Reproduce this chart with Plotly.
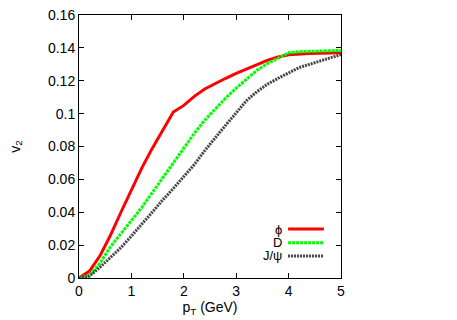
import plotly.graph_objects as go

pt = [0, 0.2, 0.4, 0.6, 0.8, 1.0, 1.2, 1.4, 1.6, 1.8, 2.0, 2.2, 2.4, 2.6, 2.8, 3.0,
      3.2, 3.4, 3.6, 3.8, 4.0, 4.2, 4.4, 4.6, 4.8, 5.0]
v2_phi = [0, 0.0042, 0.0135, 0.026, 0.040, 0.054, 0.067, 0.079, 0.090, 0.101, 0.105, 0.1105,
          0.115, 0.1185, 0.1215, 0.1245, 0.127, 0.1298, 0.1325, 0.1345, 0.1358, 0.1363,
          0.1366, 0.1368, 0.137, 0.137]
v2_D = [0, 0.0015, 0.009, 0.019, 0.027, 0.035, 0.043, 0.052, 0.061, 0.070, 0.0795, 0.088,
        0.096, 0.103, 0.1095, 0.1155, 0.121, 0.1265, 0.1305, 0.134, 0.137, 0.1377, 0.138,
        0.1382, 0.1383, 0.1384]
v2_Jpsi = [0, 0.0012, 0.0065, 0.0128, 0.0185, 0.0255, 0.033, 0.0405, 0.0475, 0.0545, 0.0615,
           0.069, 0.0775, 0.0855, 0.093, 0.1005, 0.108, 0.1135, 0.118, 0.1215, 0.125,
           0.128, 0.130, 0.1318, 0.134, 0.1359]
labels = ["ϕ", "D", "J/ψ"]
colors = ["#ff0000", "#00ff00", "#444444"]
dashes = ["solid", "3px,1px", "2px,1px"]
x_ticks = [0, 1, 2, 3, 4, 5]
y_ticks = [0, 0.02, 0.04, 0.06, 0.08, 0.1, 0.12, 0.14, 0.16]
y_ticktext = ["0", "0.02", "0.04", "0.06", "0.08", "0.1", "0.12", "0.14", "0.16"]

FONT = "Liberation Sans, Arial, sans-serif"
FS = 14
fig = go.Figure()
for name, ys, c, d in zip(labels, [v2_phi, v2_D, v2_Jpsi], colors, dashes):
    fig.add_trace(go.Scatter(x=pt, y=ys, mode="lines", name=name,
                             line=dict(color=c, width=3, dash=d), showlegend=False))

# manual legend (text left, sample right)
leg_y = [0.186, 0.134, 0.084]
for name, c, d, yy in zip(labels, colors, dashes, leg_y):
    fig.add_annotation(x=0.782, y=yy, xref="paper", yref="paper", text=name,
                       showarrow=False, xanchor="right", yanchor="middle",
                       font=dict(family=FONT, size=13, color="black"))
    fig.add_shape(type="line", xref="paper", yref="paper", x0=0.798, x1=0.935,
                  y0=yy, y1=yy, line=dict(color=c, width=3, dash=d))

axis_common = dict(showgrid=False, zeroline=False, showline=True, linecolor="black",
                   linewidth=1, mirror="allticks", ticks="inside", ticklen=5,
                   tickcolor="black", automargin=False,
                   tickfont=dict(family=FONT, size=FS, color="black"))
fig.update_xaxes(range=[0, 5], tickvals=x_ticks, title=dict(text="p<sub>T</sub> (GeV)",
                 font=dict(family=FONT, size=FS, color="black"), standoff=4), **axis_common)
fig.update_yaxes(range=[0, 0.16], tickvals=y_ticks, ticktext=y_ticktext,
                 title=dict(text="v<sub>2</sub>", font=dict(family=FONT, size=FS, color="black"),
                            standoff=24), **axis_common)
fig.update_layout(width=457, height=320, margin=dict(l=79, r=116, t=15, b=42),
                  paper_bgcolor="white", plot_bgcolor="white")
fig.write_html("out.html", config={"displayModeBar": False},
               post_script="document.body.style.margin='0';document.body.style.padding='0';")
